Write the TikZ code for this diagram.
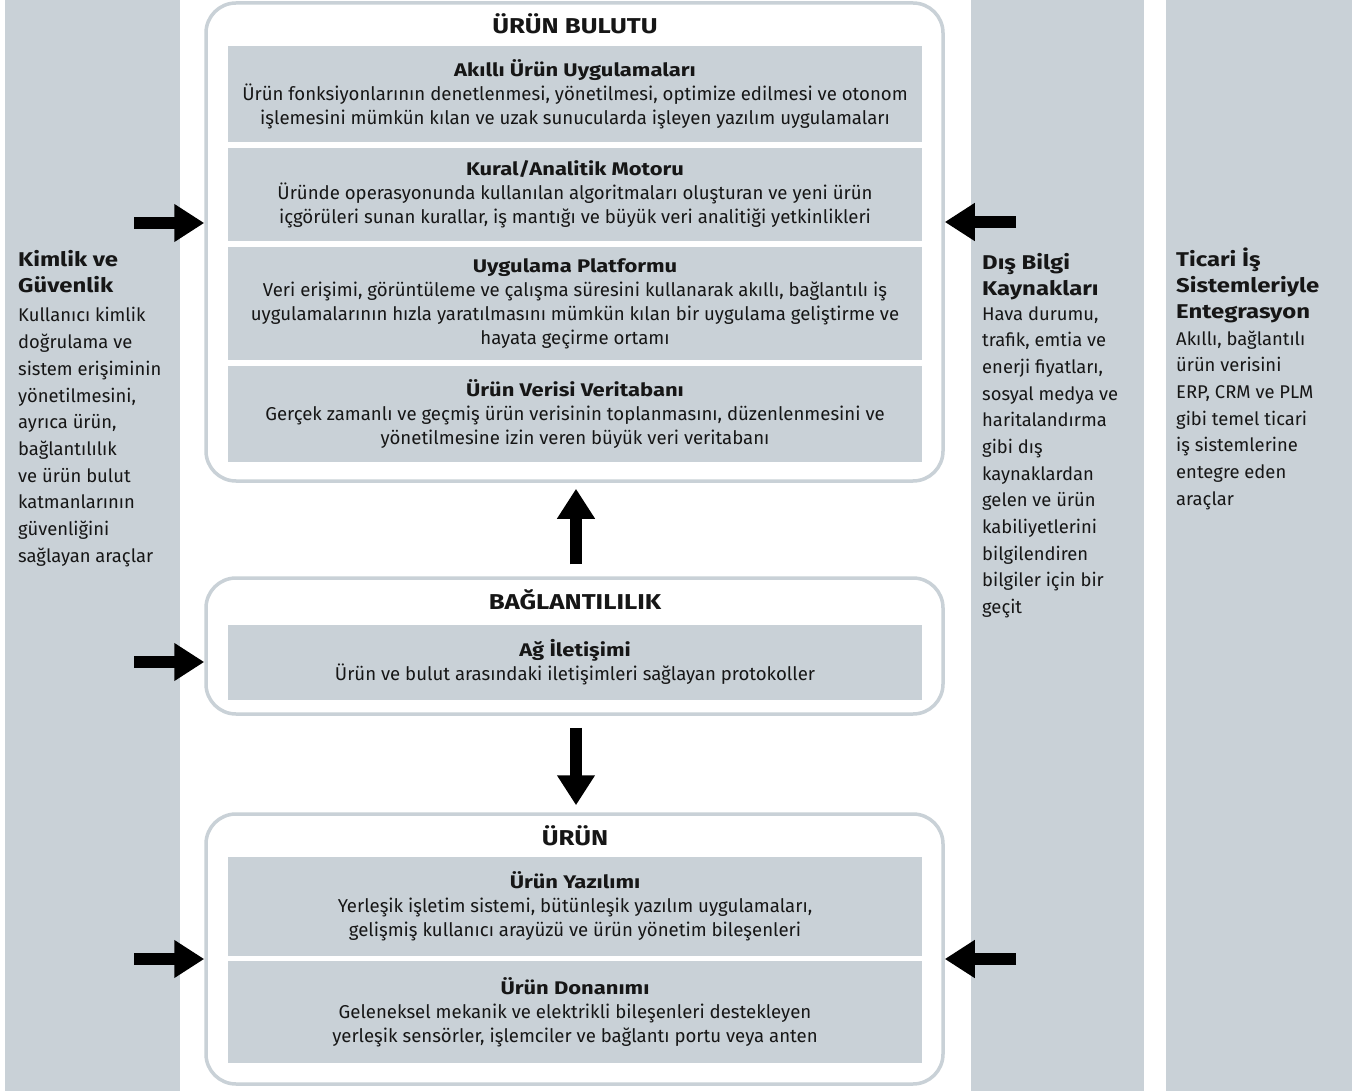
\documentclass[tikz,border=0pt]{standalone}
\usepackage{fontspec}
\setmainfont{Fira Sans}[BoldFeatures={FakeStretch=1.2}]
\usetikzlibrary{arrows.meta}
\definecolor{panel}{RGB}{201,209,215}
\definecolor{ink}{RGB}{22,22,22}
\tikzset{
  sidecol/.style={fill=panel, draw=none, inner sep=0pt, anchor=north west, minimum height=1091pt},
  layer/.style={draw=panel, line width=3.5pt, rounded corners=30pt, fill=white, inner sep=0pt, minimum width=737pt},
  layertitle/.style={anchor=base, inner sep=0pt, text=ink, font=\fontsize{21.5}{24}\selectfont\bfseries},
  cell/.style={fill=panel, inner sep=0pt, minimum width=694pt, align=center, text=ink, font=\fontsize{18.6}{24}\selectfont},
  sidetext/.style={anchor=base west, inner sep=0pt, text=ink},
  blockarrow/.style={draw=black, line width=12pt, -{Triangle[length=30pt,width=36pt]}}
}
\newcommand{\celltitle}[1]{{\fontsize{18.3}{24}\selectfont\bfseries #1}}
\newcommand{\sidetitle}[1]{\parbox[t]{180pt}{\raggedright\fontsize{19.9}{26}\selectfont\bfseries #1}}
\newcommand{\sidebody}[1]{\parbox[t]{180pt}{\raggedright\fontsize{18.4}{26.7}\selectfont #1}}
\begin{document}
\begin{tikzpicture}[x=1pt,y=-1pt]
\useasboundingbox (0,0) rectangle (1371,1091);
\fill[white] (0,0) rectangle (1371,1091);

% side columns
\node[sidecol, minimum width=175pt] (colL) at (5,0) {};
\node[sidecol, minimum width=173pt] (colM) at (971,0) {};
\node[sidecol, minimum width=186pt] (colR) at (1166,0) {};

% layers
\node[layer, minimum height=478pt] (cloud) at (574.5,242) {};
\node[layer, minimum height=136pt] (conn) at (574.5,646) {};
\node[layer, minimum height=270pt] (prod) at (574.5,949) {};

\node[layertitle] (cloudT) at (575,34) {ÜRÜN BULUTU};
\node[layertitle] (connT) at (575,609) {BAĞLANTILILIK};
\node[layertitle] (prodT) at (575,845) {ÜRÜN};

% cloud cells
\node[cell, minimum height=96pt] (apps) at (575,94) {\celltitle{Akıllı Ürün Uygulamaları}\\
Ürün fonksiyonlarının denetlenmesi, yönetilmesi, optimize edilmesi ve otonom\\
işlemesini mümkün kılan ve uzak sunucularda işleyen yazılım uygulamaları};
\node[cell, minimum height=93pt] (rules) at (575,194.5) {\celltitle{Kural/Analitik Motoru}\\
Üründe operasyonunda kullanılan algoritmaları oluşturan ve yeni ürün\\
içgörüleri sunan kurallar, iş mantığı ve büyük veri analitiği yetkinlikleri};
\node[cell, minimum height=113pt] (platform) at (575,303.5) {\celltitle{Uygulama Platformu}\\
Veri erişimi, görüntüleme ve çalışma süresini kullanarak akıllı, bağlantılı iş\\
uygulamalarının hızla yaratılmasını mümkün kılan bir uygulama geliştirme ve\\
hayata geçirme ortamı};
\node[cell, minimum height=96pt] (db) at (575,414) {\celltitle{Ürün Verisi Veritabanı}\\
Gerçek zamanlı ve geçmiş ürün verisinin toplanmasını, düzenlenmesini ve\\
yönetilmesine izin veren büyük veri veritabanı};

% connectivity cell
\node[cell, minimum height=75pt] (net) at (575,662.5) {\celltitle{Ağ İletişimi}\\
Ürün ve bulut arasındaki iletişimleri sağlayan protokoller};

% product cells
\node[cell, minimum height=99pt] (sw) at (575,906.5) {\celltitle{Ürün Yazılımı}\\
Yerleşik işletim sistemi, bütünleşik yazılım uygulamaları,\\
gelişmiş kullanıcı arayüzü ve ürün yönetim bileşenleri};
\node[cell, minimum height=102pt] (hw) at (575,1012) {\celltitle{Ürün Donanımı}\\
Geleneksel mekanik ve elektrikli bileşenleri destekleyen\\
yerleşik sensörler, işlemciler ve bağlantı portu veya anten};

% side texts
\node[sidetext] (secT) at (18,267) {\sidetitle{Kimlik ve\\Güvenlik}};
\node[sidetext] (secB) at (18,322) {\sidebody{Kullanıcı kimlik\\doğrulama ve\\sistem erişiminin\\yönetilmesini,\\ayrıca ürün,\\bağlantılılık\\ve ürün bulut\\katmanlarının\\güvenliğini\\sağlayan araçlar}};

\node[sidetext] (extT) at (982,270) {\sidetitle{Dış Bilgi\\Kaynakları}};
\node[sidetext] (extB) at (982,320) {\sidebody{Hava durumu,\\trafik, emtia ve\\enerji fiyatları,\\sosyal medya ve\\haritalandırma\\gibi dış\\kaynaklardan\\gelen ve ürün\\kabiliyetlerini\\bilgilendiren\\bilgiler için bir\\geçit}};

\node[sidetext] (bizT) at (1176,267) {\sidetitle{Ticari İş\\Sistemleriyle\\Entegrasyon}};
\node[sidetext] (bizB) at (1176,345) {\sidebody{Akıllı, bağlantılı\\ürün verisini\\ERP, CRM ve PLM\\gibi temel ticari\\iş sistemlerine\\entegre eden\\araçlar}};

% arrow tails
\coordinate (tL1) at (134,223);
\coordinate (tL2) at (134,662);
\coordinate (tL3) at (134,959);
\coordinate (tR1) at (1016,222);
\coordinate (tR3) at (1016,959);

\draw[blockarrow] (tL1) -- (tL1 -| cloud.west);
\draw[blockarrow] (tL2) -- (tL2 -| conn.west);
\draw[blockarrow] (tL3) -- (tL3 -| prod.west);
\draw[blockarrow] (tR1) -- (tR1 -| cloud.east);
\draw[blockarrow] (tR3) -- (tR3 -| prod.east);

\draw[blockarrow, shorten <=12pt, shorten >=6pt] ([xshift=1.5pt]conn.north) -- ([xshift=1.5pt]cloud.south);
\draw[blockarrow, shorten <=12pt, shorten >=7pt] ([xshift=1.5pt]conn.south) -- ([xshift=1.5pt]prod.north);
\end{tikzpicture}
\end{document}
